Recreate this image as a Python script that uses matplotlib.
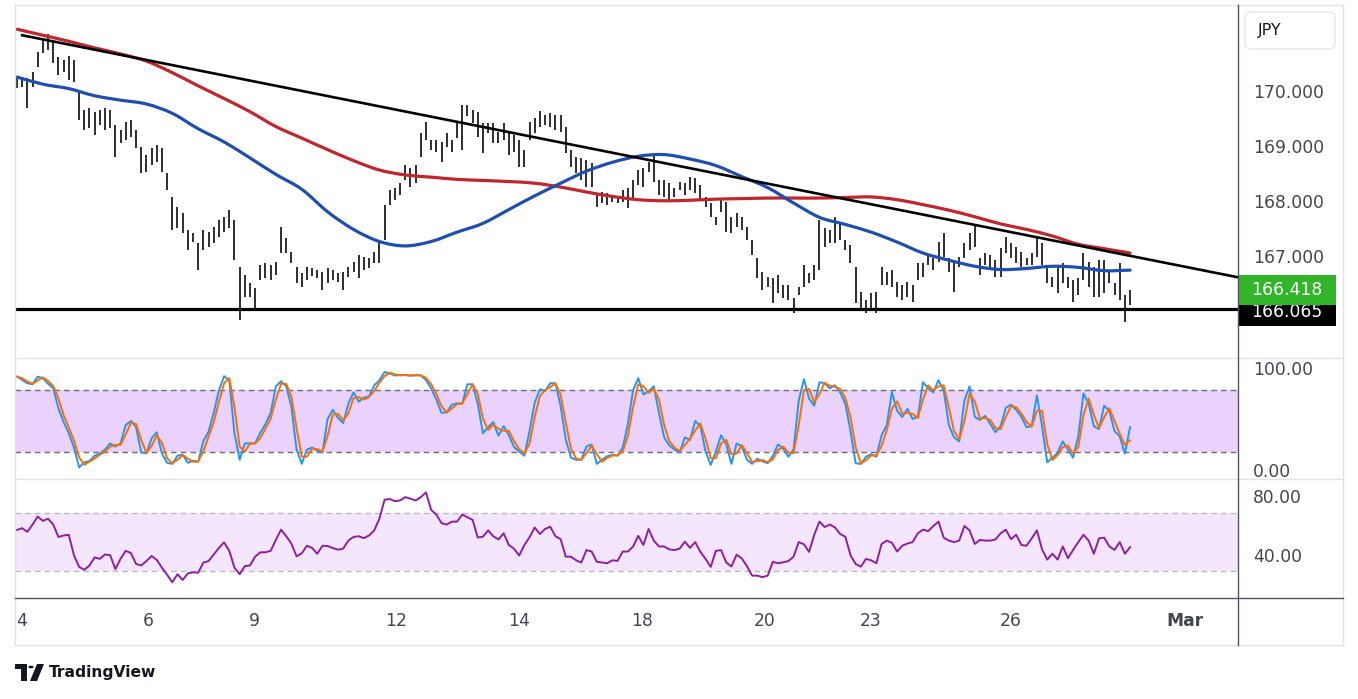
import numpy as np
import pandas as pd
import matplotlib
matplotlib.use("Agg")
import matplotlib.pyplot as plt
from matplotlib.patches import Rectangle, FancyBboxPatch, Circle, Polygon, PathPatch
from matplotlib.path import Path
from matplotlib.lines import Line2D
import matplotlib.transforms as mtransforms

# ---------------- data (EUR/JPY, 2h bars) ----------------
high = [170.29, 170.29, 170.27, 170.38, 170.75, 170.96, 171.07, 170.96, 170.65, 170.60,
        170.67, 170.60, 170.02, 169.69, 169.73, 169.65, 169.69, 169.73, 169.69, 169.42,
        169.33, 169.47, 169.51, 169.33, 169.02, 168.87, 169.00, 169.05, 169.00, 168.55,
        168.11, 167.93, 167.82, 167.51, 167.45, 167.27, 167.51, 167.47, 167.56, 167.69,
        167.75, 167.87, 167.69, 166.84, 166.69, 166.55, 166.45, 166.87, 166.91, 166.87,
        166.93, 167.56, 167.36, 167.11, 166.84, 166.73, 166.84, 166.82, 166.78, 166.75,
        166.82, 166.78, 166.73, 166.75, 166.84, 166.93, 167.05, 167.02, 167.00, 167.11,
        167.29, 167.96, 168.24, 168.27, 168.36, 168.69, 168.64, 168.69, 169.27, 169.47,
        169.15, 169.15, 169.11, 169.27, 169.15, 169.47, 169.78, 169.78, 169.69, 169.65,
        169.45, 169.45, 169.45, 169.29, 169.45, 169.27, 169.24, 169.15, 168.96, 169.47,
        169.55, 169.67, 169.60, 169.64, 169.60, 169.60, 169.38, 168.96, 168.84, 168.82,
        168.78, 168.73, 168.18, 168.20, 168.18, 168.15, 168.13, 168.24, 168.27, 168.42,
        168.60, 168.64, 168.75, 168.87, 168.42, 168.42, 168.36, 168.27, 168.38, 168.36,
        168.47, 168.45, 168.33, 168.11, 168.00, 167.75, 168.09, 168.02, 167.75, 167.82,
        167.75, 167.56, 167.33, 167.00, 166.75, 166.65, 166.64, 166.69, 166.51, 166.51,
        166.27, 166.47, 166.87, 166.73, 166.87, 167.69, 167.55, 167.51, 167.75, 167.65,
        167.33, 167.24, 166.84, 166.38, 166.24, 166.36, 166.38, 166.84, 166.75, 166.78,
        166.56, 166.51, 166.56, 166.51, 166.91, 166.91, 167.04, 167.00, 167.29, 167.45,
        167.00, 166.96, 167.02, 167.27, 167.45, 167.58, 167.00, 167.09, 167.05, 166.96,
        167.18, 167.38, 167.27, 167.20, 167.11, 167.00, 167.09, 167.38, 167.27, 166.87,
        166.65, 166.84, 166.91, 166.65, 166.60, 166.64, 167.09, 166.93, 166.84, 166.96,
        166.96, 166.75, 166.55, 166.91, 166.33, 166.42]
low = [170.09, 170.11, 169.73, 170.11, 170.47, 170.73, 170.78, 170.55, 170.33, 170.38,
       170.24, 170.20, 169.51, 169.33, 169.36, 169.24, 169.42, 169.33, 169.36, 168.84,
       169.09, 169.15, 169.20, 169.00, 168.55, 168.56, 168.69, 168.75, 168.56, 168.24,
       167.51, 167.55, 167.45, 167.15, 167.29, 166.78, 167.15, 167.20, 167.27, 167.38,
       167.47, 167.55, 166.96, 165.87, 166.29, 166.29, 166.05, 166.60, 166.64, 166.60,
       166.69, 167.09, 167.09, 166.91, 166.55, 166.47, 166.60, 166.67, 166.64, 166.42,
       166.55, 166.60, 166.56, 166.42, 166.65, 166.75, 166.64, 166.78, 166.82, 166.91,
       166.91, 167.33, 167.96, 168.05, 168.15, 168.42, 168.29, 168.36, 168.84, 169.15,
       168.96, 168.93, 168.75, 169.02, 168.93, 169.18, 168.96, 169.58, 169.45, 169.20,
       168.91, 169.27, 169.09, 169.09, 169.15, 168.87, 168.93, 168.65, 168.65, 169.15,
       169.27, 169.38, 169.42, 169.38, 169.33, 169.29, 168.91, 168.65, 168.55, 168.42,
       168.29, 168.29, 167.93, 168.00, 167.96, 168.02, 168.00, 168.02, 167.91, 168.09,
       168.33, 168.29, 168.56, 168.38, 168.15, 168.11, 168.02, 168.11, 168.24, 168.15,
       168.24, 168.18, 168.05, 167.93, 167.75, 167.60, 167.84, 167.47, 167.45, 167.56,
       167.51, 167.33, 167.05, 166.64, 166.42, 166.47, 166.18, 166.36, 166.27, 166.24,
       166.00, 166.33, 166.47, 166.55, 166.60, 166.78, 167.20, 167.27, 167.27, 167.33,
       167.15, 166.91, 166.18, 166.09, 166.00, 166.05, 166.00, 166.51, 166.51, 166.47,
       166.29, 166.24, 166.29, 166.20, 166.60, 166.65, 166.87, 166.78, 166.93, 167.02,
       166.75, 166.38, 166.84, 167.00, 167.15, 167.20, 166.69, 166.87, 166.84, 166.65,
       166.65, 167.09, 167.00, 166.91, 166.84, 166.87, 166.87, 167.02, 166.87, 166.55,
       166.47, 166.36, 166.55, 166.45, 166.20, 166.33, 166.60, 166.47, 166.29, 166.29,
       166.36, 166.55, 166.33, 166.24, 165.84, 166.15]

# moving averages, one value every 5 bars
ma_step = 5
ma_fast = [170.29, 170.16, 170.08, 169.95, 169.87, 169.80, 169.63, 169.35, 169.11, 168.82,
           168.52, 168.25, 167.84, 167.52, 167.30, 167.22, 167.30, 167.47, 167.63, 167.88,
           168.13, 168.36, 168.58, 168.74, 168.85, 168.88, 168.80, 168.68, 168.48, 168.28,
           168.00, 167.74, 167.61, 167.47, 167.29, 167.09, 166.96, 166.85, 166.79, 166.81,
           166.85, 166.83, 166.77, 166.78]
ma_slow = [171.16, 171.05, 170.94, 170.82, 170.71, 170.58, 170.37, 170.13, 169.90, 169.66,
           169.39, 169.18, 168.97, 168.77, 168.60, 168.51, 168.47, 168.43, 168.41, 168.39,
           168.36, 168.29, 168.20, 168.12, 168.06, 168.04, 168.05, 168.07, 168.08, 168.09,
           168.09, 168.09, 168.10, 168.11, 168.06, 167.97, 167.87, 167.75, 167.62, 167.52,
           167.40, 167.25, 167.17, 167.09]

stoch_k = [93.5, 90.2, 87, 86, 93.5, 92, 86.5, 82, 62.4, 49, 38, 24, 4.5, 9.5, 10.8, 16, 18, 22,
           28, 25, 28, 46, 50, 44, 19, 18.3, 33, 39, 18, 9, 8, 16, 17, 9, 11, 10, 30.4, 39.5,
           58, 80, 94, 90, 38, 12, 28, 28, 28, 38.5, 47, 58, 84, 89, 84, 64, 22, 8, 22, 24, 21,
           19, 52, 61, 53, 48, 67, 78, 69, 73, 74, 85, 90, 98, 96.7, 94.6, 95, 95, 94.4, 95,
           94.6, 90, 82, 71, 58, 58.5, 66, 67.3, 67, 86, 86, 67, 38, 44, 49, 35.6, 45, 36,
           24.5, 20, 16, 40, 68, 81, 79.4, 87, 87, 65, 32, 14, 12, 12, 25, 27, 8, 12, 15.5,
           16.8, 16, 24, 47, 80, 92, 76, 79, 84, 58, 34, 26, 22, 19, 34, 31.4, 50, 45, 20, 7,
           20, 36, 27, 8, 28, 25, 12, 8, 13, 10.5, 8.6, 16, 27, 23, 15, 22, 70, 91, 72, 65, 88,
           87, 82, 85, 78, 67, 40, 8.5, 8, 15, 17.5, 15, 36, 46, 78.5, 60, 54, 62, 52, 54, 88,
           82, 78, 90, 80, 46, 34, 30, 70, 84, 54, 51, 55, 47, 39, 45, 63, 66, 61, 54, 44, 45,
           75, 45, 9.5, 14, 19, 30, 22, 14, 35, 77, 67, 45, 42, 65, 60, 40, 35, 18, 44]

rsi = [58.3, 59.5, 57, 62, 67.5, 64.5, 66, 62, 53.5, 54.5, 55, 41, 33, 31, 34, 39.5, 38.5, 41.5,
       41, 31.5, 38.5, 44, 42.5, 35, 34, 37, 40.5, 37.8, 32.4, 27.6, 22.5, 28, 24, 28.5, 29.3,
       29, 36, 37, 41.5, 46, 49.8, 44, 32.5, 28, 33.5, 34, 40, 43, 43, 44, 51.5, 58.5, 54, 49,
       40.2, 42.3, 47.5, 46, 42, 47.5, 47.3, 45.9, 44.8, 45.5, 51, 53.5, 54, 52.7, 54.5, 58,
       66, 79, 79.5, 78, 78.5, 80.8, 79.7, 78.5, 80.8, 84, 72, 68.8, 63, 62, 64, 64, 68.8, 67,
       65.2, 53.1, 53.7, 58, 54, 51.8, 56, 48, 45.5, 40.8, 48, 53.3, 60, 55.5, 59, 60.5, 54,
       52, 40, 40, 37.5, 36, 44.5, 43.5, 36.5, 36, 35.5, 37.5, 37.1, 43.5, 43.5, 46.9, 54.3,
       48, 59, 51, 47, 47, 45, 44.5, 45.5, 50.3, 46, 50, 43.3, 38.5, 33, 44, 44.5, 36, 33.3,
       41.4, 38.8, 33.5, 27, 27, 26, 27, 36.5, 35.5, 36.2, 37, 40, 50, 48.5, 43.3, 55, 64,
       60.3, 62, 60, 55.5, 53.7, 41, 35, 33.2, 38.5, 37.5, 35.5, 48.7, 51, 49.5, 43.5, 47.5,
       49, 50, 56, 58.5, 57.5, 61, 64, 53, 51, 50, 51, 61, 58, 48.7, 51.5, 51, 51, 51.8, 56,
       58.5, 52, 55, 48, 47.5, 52.5, 58, 45, 38, 42, 38, 47, 39, 44.6, 50, 55, 51, 42, 52.5,
       53, 47, 44.6, 50, 42, 46.5]

trend_anchor_bars = [1, 215]
trend_anchor_prices = [171.05, 167.04]
support_price = 166.065
last_price = 166.418
price_ticks = [170, 169, 168, 167]
stoch_ticks = [100, 0]
rsi_ticks = [80, 40]
stoch_band = [20, 80]
rsi_band = [30, 70]
day_tick_bars = [0.97, 25.3, 45.8, 73.2, 97.0, 120.7, 144.5, 164.8, 192.0, 225.6]
day_tick_labels = ["4", "6", "9", "12", "14", "18", "20", "23", "26", "Mar"]

# ---------------- figure ----------------
W, H = 1358, 699
fig = plt.figure(figsize=(W / 100, H / 100), dpi=100)
fig.patch.set_facecolor("white")
plt.rcParams["font.family"] = ["DejaVu Sans"]


def fx(px):
    return px / W


def fy(py):
    return 1 - py / H


def make_ax(top, bottom):
    ax = fig.add_axes([fx(15), fy(bottom), fx(1238) - fx(15), fy(top) - fy(bottom)])
    for s in ax.spines.values():
        s.set_visible(False)
    ax.set_xticks([])
    ax.set_yticks([])
    ax.set_facecolor("none")
    return ax


def smooth_line(ax, xs, ys, color, lw, z):
    """Draw a smooth (Catmull-Rom Bezier) curve through the given points."""
    pts = np.column_stack([xs, ys]).astype(float)
    verts = [pts[0]]
    codes = [Path.MOVETO]
    for i in range(len(pts) - 1):
        p0 = pts[i - 1] if i > 0 else pts[i]
        p1 = pts[i]
        p2 = pts[i + 1]
        p3 = pts[i + 2] if i + 2 < len(pts) else pts[i + 1]
        c1 = p1 + (p2 - p0) / 6.0
        c2 = p2 - (p3 - p1) / 6.0
        verts += [c1, c2, p2]
        codes += [Path.CURVE4] * 3
    ax.add_patch(PathPatch(Path(verts, codes), facecolor="none", edgecolor=color, lw=lw,
                           zorder=z, capstyle="round", joinstyle="round"))


ax1 = make_ax(5, 358)
ax2 = make_ax(358, 479)
ax3 = make_ax(479, 598)

n = len(high)
idx = np.arange(n)
xmin, xmax = -0.386, 235.85
for ax in (ax1, ax2, ax3):
    ax.set_xlim(xmin, xmax)
ax1.set_ylim(165.182, 171.6)
ax2.set_ylim(-6.86, 111.76)
ax3.set_ylim(11.7, 93.2)

# ---- price panel ----
ax1.vlines(idx, low, high, color="black", lw=1.15, zorder=3)
ma_x = np.arange(len(ma_fast)) * ma_step
smooth_line(ax1, ma_x, ma_slow, "#C0262D", 2.3, 4)
smooth_line(ax1, ma_x, ma_fast, "#1F4FAE", 2.3, 4)

# trendline (from anchor to right edge)
slope = (trend_anchor_prices[1] - trend_anchor_prices[0]) / (trend_anchor_bars[1] - trend_anchor_bars[0])
t_end = trend_anchor_prices[1] + slope * (xmax - trend_anchor_bars[1])
ax1.plot([trend_anchor_bars[0], xmax], [trend_anchor_prices[0], t_end], color="black", lw=1.9, zorder=5)
ax1.plot([xmin, xmax], [support_price, support_price], color="black", lw=2.3, zorder=5)

text_col = "#434651"
lbl_x = (1253 - 15) / (1238 - 15)
tr1 = mtransforms.blended_transform_factory(ax1.transAxes, ax1.transData)
for p in price_ticks:
    ax1.text(lbl_x, p, f"{p:.3f}", transform=tr1, ha="left", va="center",
             fontsize=12.3, color=text_col, clip_on=False)

box_r = (1336 - 15) / (1238 - 15)
px_per_unit = 55.0
# black support label (pushed under the green one)
ax1.add_patch(Rectangle((1.0, support_price - 0.30), box_r - 1.0, 0.53, transform=tr1,
                        facecolor="black", edgecolor="none", clip_on=False, zorder=6))
ax1.text(1.0 + (box_r - 1.0) / 2, support_price - 0.04, f"{support_price:.3f}", transform=tr1,
         ha="center", va="center", fontsize=12.3, color="white", clip_on=False, zorder=7)
# green last price label
ax1.add_patch(Rectangle((1.0, last_price - 15 / px_per_unit), box_r - 1.0, 30 / px_per_unit,
                        transform=tr1, facecolor="#33B52A", edgecolor="none", clip_on=False, zorder=8))
ax1.text(1.0 + (box_r - 1.0) / 2, last_price, f"{last_price:.3f}", transform=tr1,
         ha="center", va="center", fontsize=12.3, color="white", clip_on=False, zorder=9)

# ---- stochastic panel ----
ax2.axhspan(stoch_band[0], stoch_band[1], color="#EAD2FC", zorder=1, lw=0)
for b in stoch_band:
    ax2.axhline(b, color="#6a6d78", lw=1.0, ls=(0, (4, 3)), zorder=2)
stoch_d = pd.Series(stoch_k).rolling(2, min_periods=1).mean().to_numpy()
ax2.plot(idx, stoch_k, color="#2196F3", lw=1.4, zorder=3)
ax2.plot(idx, stoch_d, color="#FF6D00", lw=1.4, zorder=4)
tr2 = mtransforms.blended_transform_factory(ax2.transAxes, ax2.transData)
for v in stoch_ticks:
    ax2.text(lbl_x, v, f"{v:.2f}", transform=tr2, ha="left", va="center",
             fontsize=12.3, color=text_col, clip_on=False)

# ---- RSI panel ----
ax3.axhspan(rsi_band[0], rsi_band[1], color="#F4E7FD", zorder=1, lw=0)
for b in rsi_band:
    ax3.axhline(b, color="#b8bac2", lw=1.0, ls=(0, (4, 3)), zorder=2)
ax3.plot(idx, rsi, color="#8E1FA3", lw=1.4, zorder=3)
tr3 = mtransforms.blended_transform_factory(ax3.transAxes, ax3.transData)
for v in rsi_ticks:
    ax3.text(lbl_x, v, f"{v:.2f}", transform=tr3, ha="left", va="center",
             fontsize=12.3, color=text_col, clip_on=False)

# ---- time axis labels ----
trx = mtransforms.blended_transform_factory(ax3.transData, ax3.transAxes)
for b, lab in zip(day_tick_bars, day_tick_labels):
    ax3.text(b, -0.195, lab, transform=trx, ha="center", va="center", fontsize=12.3,
             color=text_col, fontweight="bold" if lab == "Mar" else "normal", clip_on=False)


# ---- frame lines ----
def fline(x0, y0, x1, y1, color, lw=1.0, z=10):
    fig.add_artist(Line2D([fx(x0), fx(x1)], [fy(y0), fy(y1)], transform=fig.transFigure,
                          color=color, lw=lw, zorder=z))


light = "#e0e3eb"
fline(15, 5, 1343, 5, light)
fline(15, 645, 1343, 645, light)
fline(15, 5, 15, 645, light)
fline(1343, 5, 1343, 645, light)
fline(15, 358, 1343, 358, light)
fline(15, 479, 1343, 479, light)
fline(15, 598, 1343, 598, "#50535e", 1.0)
fline(1238, 5, 1238, 645, "#50535e", 1.0)

# JPY box
fig.add_artist(FancyBboxPatch((fx(1245), fy(49)), fx(1335) - fx(1245), fy(12) - fy(49),
                              boxstyle="round,pad=0,rounding_size=0.006", transform=fig.transFigure,
                              facecolor="white", edgecolor="#e6e8ee", lw=1.0))
fig.text(fx(1258), fy(31), "JPY", ha="left", va="center", fontsize=11.5, color="#131722")

# TradingView logo
logo_col = "#131722"
fig.add_artist(Polygon([(fx(15), fy(664)), (fx(27), fy(664)), (fx(27), fy(681)), (fx(21), fy(681)),
                        (fx(21), fy(669)), (fx(15), fy(669))], closed=True, transform=fig.transFigure,
                       facecolor=logo_col, edgecolor="none"))
fig.add_artist(Circle((fx(31), fy(667)), 2.6 / W, transform=fig.transFigure, facecolor=logo_col,
                      edgecolor="none"))
fig.add_artist(Polygon([(fx(37), fy(664)), (fx(44), fy(664)), (fx(37), fy(681)), (fx(30), fy(681))],
                       closed=True, transform=fig.transFigure, facecolor=logo_col, edgecolor="none"))
fig.text(fx(49), fy(672), "TradingView", ha="left", va="center", fontsize=11.2,
         fontweight="bold", color=logo_col)

fig.savefig("out.png", dpi=100, facecolor="white")
